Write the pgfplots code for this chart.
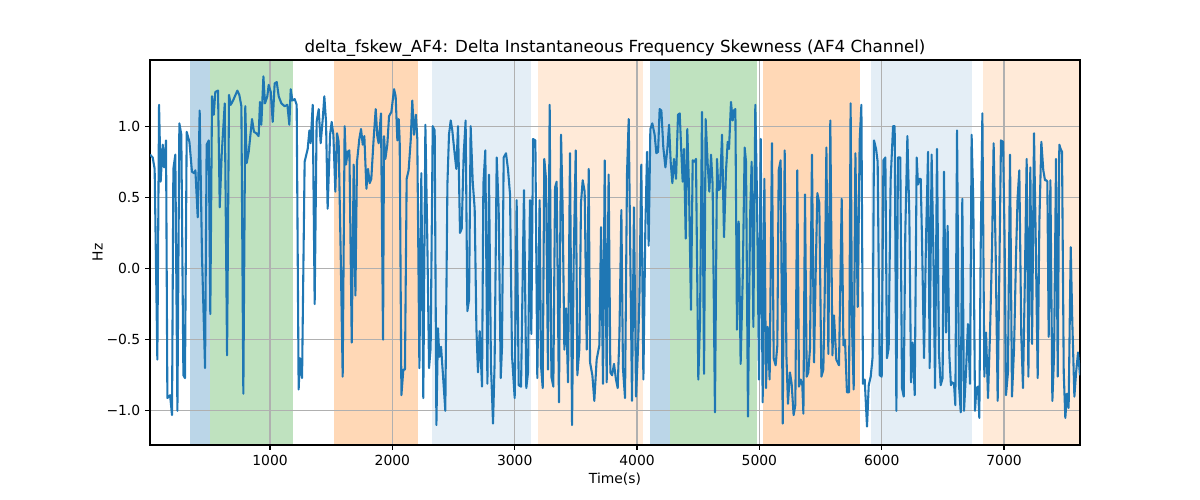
\documentclass[border=0pt]{standalone}
\usepackage{fontspec}
\setmainfont{DejaVu Sans}
\usepackage{pgfplots}
\pgfplotsset{compat=1.18}
\usepackage{pgfplotstable}

\definecolor{cblue}{HTML}{1F77B4}
\definecolor{corange}{HTML}{FF7F0E}
\definecolor{cgreen}{HTML}{2CA02C}

% signal (time in s, value in Hz)
\pgfplotstableread{
x y
19 0.80
41 0.78
57 0.70
79 -0.64
93 1.15
106 0.61
123 0.87
134 0.71
150 0.90
161 -0.91
183 -0.89
199 -1.03
210 0.70
226 0.80
243 -1.00
259 1.02
275 0.94
292 -0.75
305 -0.77
319 0.96
341 0.89
362 0.68
379 0.67
390 0.69
409 0.36
425 1.11
444 0.09
469 -0.70
482 0.87
499 0.90
512 -0.32
526 1.21
540 1.08
553 1.24
575 1.25
589 0.43
605 0.80
630 1.16
649 -0.61
665 1.22
679 1.15
698 1.18
733 1.25
749 1.22
766 1.14
782 -0.88
798 1.14
809 0.74
826 0.82
853 1.05
869 0.96
888 0.95
907 0.93
918 1.17
929 1.01
946 1.35
959 1.16
978 1.21
989 1.29
1006 1.24
1022 1.03
1038 1.30
1055 1.31
1071 1.21
1093 1.16
1120 1.14
1142 1.15
1158 1.01
1169 1.26
1183 1.18
1202 1.19
1218 1.15
1234 -0.85
1245 -0.63
1262 -0.77
1283 0.75
1308 0.84
1322 0.97
1332 0.88
1349 1.15
1365 -0.25
1381 1.03
1398 1.12
1414 0.88
1431 1.05
1444 1.21
1458 1.03
1471 0.42
1491 0.94
1504 1.03
1518 0.94
1534 0.54
1548 0.95
1561 0.89
1578 0.09
1594 -0.76
1610 1.00
1621 0.73
1635 0.82
1649 0.83
1668 -0.52
1684 0.73
1698 -0.19
1711 0.75
1730 0.91
1744 0.98
1758 0.87
1771 0.93
1788 0.56
1801 0.70
1815 0.60
1828 0.63
1847 0.91
1864 1.12
1877 0.93
1888 0.88
1907 1.09
1924 -0.50
1932 0.93
1943 0.77
1959 0.87
1973 1.07
1992 1.10
2014 1.26
2027 1.21
2041 0.90
2052 1.05
2060 0.90
2074 -0.89
2090 -0.71
2103 -0.71
2117 0.63
2133 0.69
2150 0.90
2163 1.18
2177 0.94
2193 1.08
2204 0.91
2221 -0.70
2237 0.67
2253 -0.91
2270 1.01
2286 0.19
2300 -0.70
2313 -0.56
2330 1.00
2346 0.97
2360 -1.10
2373 -0.42
2384 -0.62
2398 -0.55
2414 -0.75
2433 -1.00
2450 0.59
2463 0.94
2477 1.04
2490 0.97
2510 0.80
2523 0.70
2537 1.00
2553 0.25
2567 0.28
2583 0.80
2599 1.04
2613 -0.30
2627 -0.22
2640 1.00
2657 0.61
2673 0.42
2687 -0.42
2700 -0.73
2714 -0.44
2733 -0.83
2744 0.59
2760 0.83
2777 -0.81
2790 0.66
2806 -0.68
2823 -1.09
2836 -0.66
2853 0.78
2869 0.42
2886 -0.77
2896 -0.56
2910 0.78
2929 0.81
2945 0.70
2962 0.52
2978 -0.61
3000 -0.91
3016 0.48
3033 -0.82
3052 -0.83
3076 0.55
3095 -0.84
3109 -0.73
3125 0.48
3136 -0.46
3150 0.91
3169 0.90
3185 -0.77
3204 0.48
3215 -0.68
3229 -0.84
3242 0.77
3256 0.63
3272 -0.71
3286 1.15
3300 -0.76
3316 -0.83
3330 0.57
3343 0.61
3362 -0.94
3379 0.94
3392 0.42
3406 -0.57
3420 -0.28
3436 -0.80
3452 0.81
3469 -1.10
3482 0.05
3499 0.83
3512 -0.75
3529 -0.56
3542 0.46
3556 0.62
3572 0.54
3589 -0.57
3605 0.70
3616 -0.66
3635 -0.75
3651 -0.93
3670 -0.64
3692 -0.54
3706 0.29
3722 -0.81
3736 0.76
3752 -0.80
3768 0.66
3782 -0.73
3796 -0.75
3812 -0.67
3828 -0.78
3842 -0.84
3856 -0.47
3872 0.41
3885 -0.70
3902 -0.91
3918 0.66
3932 1.05
3945 0.09
3959 -0.93
3975 0.43
3992 -0.90
4008 -0.56
4019 -0.23
4035 0.73
4052 -0.78
4068 0.28
4082 0.82
4095 0.16
4109 0.98
4125 1.02
4144 0.94
4158 0.81
4172 0.82
4185 1.12
4199 1.11
4215 0.85
4232 0.71
4248 0.84
4262 1.01
4275 0.75
4289 0.60
4302 0.77
4319 0.63
4335 1.08
4349 1.09
4362 0.82
4373 0.61
4384 0.84
4398 0.21
4411 0.98
4425 0.56
4441 -0.29
4455 0.76
4471 0.75
4482 0.77
4501 -0.78
4515 -0.37
4531 1.10
4548 -0.74
4561 1.05
4578 0.73
4591 0.54
4605 0.80
4618 0.59
4637 -1.01
4654 0.77
4665 0.55
4678 0.56
4695 0.94
4711 0.22
4727 0.68
4741 0.89
4752 0.84
4768 1.17
4782 1.04
4790 1.11
4804 1.12
4817 -0.43
4831 0.33
4847 -0.67
4864 -0.07
4880 0.85
4891 0.75
4907 -1.04
4924 0.36
4937 0.75
4951 -0.41
4967 1.15
4981 0.49
4997 -0.78
5011 0.91
5027 -0.94
5041 0.63
5054 -0.84
5068 -0.41
5084 -0.78
5103 0.88
5117 -0.63
5133 -0.68
5147 -0.54
5158 0.69
5174 0.76
5191 -1.09
5207 0.83
5221 -0.61
5234 -0.95
5250 -0.73
5264 -0.81
5280 -1.03
5294 -0.96
5310 0.69
5324 -0.83
5338 -0.78
5351 -0.82
5360 -1.02
5373 0.52
5387 -0.76
5400 -0.73
5414 -0.56
5430 0.80
5447 -0.66
5460 -0.05
5474 0.53
5490 0.46
5507 -0.76
5523 -0.71
5534 -0.19
5548 0.85
5564 -0.60
5580 1.04
5597 -0.61
5610 -0.33
5629 -0.64
5651 -0.68
5673 0.49
5687 -0.54
5700 -0.50
5716 -0.87
5733 -0.87
5746 1.16
5757 -0.40
5771 -0.85
5785 0.81
5804 -0.27
5820 0.90
5834 1.15
5847 -0.81
5861 -0.78
5880 -1.11
5894 -0.82
5910 -0.76
5926 -0.62
5937 0.90
5954 0.84
5967 0.75
5984 -0.75
6000 -0.76
6014 0.76
6030 0.78
6043 -0.63
6057 -0.56
6073 0.62
6093 1.00
6106 1.00
6120 -1.00
6133 0.78
6152 0.78
6166 -0.84
6180 -0.90
6193 0.26
6210 0.93
6226 0.37
6240 -0.80
6253 -0.52
6270 -0.89
6286 0.78
6297 0.59
6308 0.63
6319 0.63
6330 0.18
6346 -0.63
6362 0.19
6379 0.82
6392 -0.70
6408 0.80
6422 0.14
6436 -0.84
6452 0.84
6468 -0.59
6482 -0.82
6498 -0.77
6509 0.68
6526 -0.45
6539 0.30
6553 -0.61
6566 -0.82
6577 -0.80
6591 -0.81
6602 -0.96
6616 0.97
6632 -0.82
6646 -1.01
6659 0.49
6673 -1.00
6689 -0.73
6705 -0.39
6722 -0.81
6735 0.94
6749 0.46
6763 -1.00
6774 -0.84
6787 -0.83
6798 -1.05
6809 0.12
6823 1.09
6839 -0.76
6853 -0.45
6869 -0.91
6885 -0.47
6902 0.14
6915 0.88
6932 0.09
6948 -0.93
6962 0.00
6975 0.90
6992 0.89
7005 0.19
7016 -0.89
7032 -0.73
7049 0.80
7065 -0.90
7082 -0.56
7098 0.09
7111 0.50
7125 0.69
7141 -0.47
7155 -0.84
7169 -0.14
7185 0.77
7199 -0.76
7215 0.71
7229 -0.53
7245 0.95
7259 0.21
7275 -0.77
7289 0.33
7305 0.89
7321 0.69
7335 0.62
7346 0.62
7354 0.61
7365 -0.48
7379 0.62
7395 -0.93
7409 -0.61
7425 0.77
7439 -0.76
7452 0.87
7463 0.84
7474 0.82
7488 -0.73
7501 -1.05
7515 -0.88
7528 -0.98
7545 0.15
7558 -0.37
7575 -0.90
7589 -0.73
7605 -0.59
7621 -0.75
}\signal

\begin{document}
\begin{tikzpicture}[x=0.72pt,y=0.72pt]
\pgfplotsset{
  band/.style n args={2}{on layer=axis background, draw=none, fill=#1, fill opacity=#2, forget plot},
}
\begin{axis}[
  name=ax, at={(0,0)}, anchor=south west,
  set layers,
  scale only axis, width=669.6pt, height=277.2pt,
  xmin=19, xmax=7621, ymin=-1.24, ymax=1.465,
  xtick={1000,2000,...,7000},
  ytick={-1,-0.5,0,0.5,1},
  yticklabels={−1.0,−0.5,0.0,0.5,1.0},
  /pgf/number format/1000 sep={},
  /pgf/number format/assume math mode=true,
  tick label style={font=\fontsize{10}{12}\selectfont},
  tick align=outside, major tick length=3.5pt,
  tick style={black, line width=0.8pt},
  xtick pos=bottom, ytick pos=left,
  axis line style={line width=0.8pt},
  grid=major, grid style={color=black!31, line width=0.8pt},
  title={delta\_fskew\_AF4: Delta Instantaneous Frequency Skewness (AF4 Channel)},
  title style={font=\fontsize{12}{14}\selectfont, yshift=-7pt},
  xlabel={Time(s)}, ylabel={Hz},
  label style={font=\fontsize{10}{12}\selectfont},
  xlabel style={yshift=1pt},
  ylabel style={yshift=-4pt},
]
\addplot[band={cblue}{0.3}] coordinates {(346,-1.24) (346,1.465) (510,1.465) (510,-1.24)} -- cycle;
\addplot[band={cgreen}{0.3}] coordinates {(510,-1.24) (510,1.465) (1188,1.465) (1188,-1.24)} -- cycle;
\addplot[band={corange}{0.3}] coordinates {(1523,-1.24) (1523,1.465) (2210,1.465) (2210,-1.24)} -- cycle;
\addplot[band={cblue}{0.12}] coordinates {(2324,-1.24) (2324,1.465) (3133,1.465) (3133,-1.24)} -- cycle;
\addplot[band={corange}{0.16}] coordinates {(3191,-1.24) (3191,1.465) (4049,1.465) (4049,-1.24)} -- cycle;
\addplot[band={cblue}{0.3}] coordinates {(4106,-1.24) (4106,1.465) (4270,1.465) (4270,-1.24)} -- cycle;
\addplot[band={cgreen}{0.3}] coordinates {(4270,-1.24) (4270,1.465) (4981,1.465) (4981,-1.24)} -- cycle;
\addplot[band={corange}{0.3}] coordinates {(5030,-1.24) (5030,1.465) (5823,1.465) (5823,-1.24)} -- cycle;
\addplot[band={cblue}{0.12}] coordinates {(5913,-1.24) (5913,1.465) (6738,1.465) (6738,-1.24)} -- cycle;
\addplot[band={corange}{0.16}] coordinates {(6828,-1.24) (6828,1.465) (7621,1.465) (7621,-1.24)} -- cycle;
\addplot[cblue, line width=1.5pt, line join=round, no marks] table[x=x,y=y] {\signal};
\end{axis}
\path[use as bounding box] ([xshift=-108pt,yshift=-39.6pt]ax.south west) rectangle ([xshift=86.4pt,yshift=43.2pt]ax.north east);
\end{tikzpicture}
\end{document}
